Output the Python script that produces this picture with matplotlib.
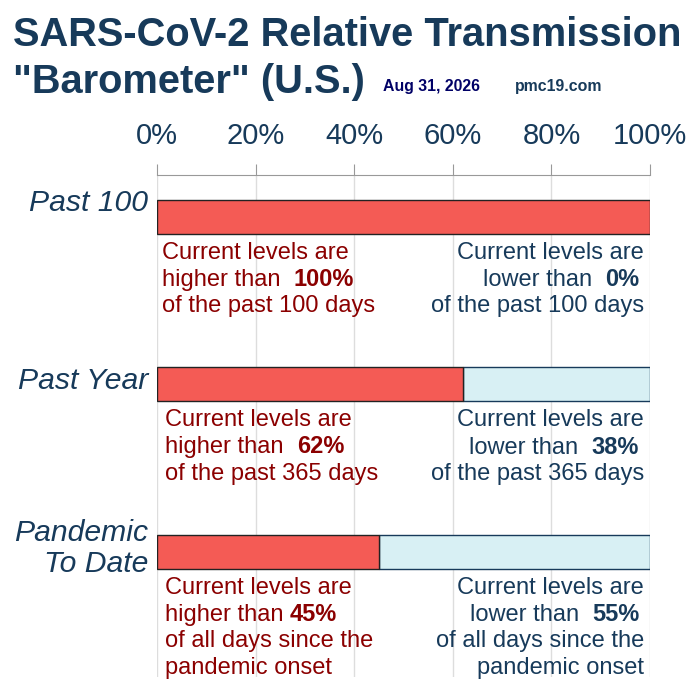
import matplotlib
matplotlib.use("Agg")
import matplotlib.pyplot as plt

plt.rcParams['font.family'] = ['Liberation Sans', 'DejaVu Sans']

# data
periods = ['Past 100', 'Past Year', 'Pandemic\nTo Date']
higher_pct = [100, 62, 45]
lower_pct = [0, 38, 55]
tail_lines = [['of the past 100 days'],
              ['of the past 365 days'],
              ['of all days since the', 'pandemic onset']]
ticks = [0, 20, 40, 60, 80, 100]
tick_labels = ['0%', '20%', '40%', '60%', '80%', '100%']
date_str = 'Aug 31, 2026'
site = 'pmc19.com'

navy = '#173a5a'
dark_red = '#8b0000'
red = '#f45b55'
light_blue = '#d8f0f4'

fig = plt.figure(figsize=(6.97, 6.94), dpi=100)
ax = fig.add_axes([157 / 697, 1 - 677 / 694, 493 / 697, 502 / 694])

y = list(range(len(periods)))
bar_h = 0.203
ax.barh(y, higher_pct, height=bar_h, color=red, edgecolor='#222222', linewidth=1, zorder=3)
ax.barh(y, lower_pct, left=higher_pct, height=bar_h, color=light_blue,
        edgecolor=navy, linewidth=1, zorder=2)

ax.set_xlim(0, 100)
ax.set_ylim(2.746, -0.25)
ax.xaxis.tick_top()
ax.set_xticks(ticks)
ax.set_xticklabels(tick_labels, fontsize=21, color=navy)
ax.tick_params(axis='x', length=8, color='#999999', pad=10)
ax.set_yticks([])
ax.grid(axis='x', color='#dddddd', linewidth=1, zorder=0)
for s in ['left', 'right', 'bottom']:
    ax.spines[s].set_visible(False)
ax.spines['top'].set_color('#999999')

# period labels
label_dy = [-0.085, -0.02, -0.02]
for i, name in enumerate(periods):
    ax.text(-1.8, i + label_dy[i], name, ha='right', va='center', fontsize=21.7,
            style='italic', color=navy, linespacing=1.12, clip_on=False)

# annotations
line_dy = [0.215, 0.374, 0.532, 0.69]
fs = 17
for i in y:
    xl = 1.0 if i == 0 else 1.6
    xr = 98.8
    # left block
    ax.text(xl, i + line_dy[0], 'Current levels are', ha='left', va='center',
            fontsize=fs, color=dark_red)
    t = ax.text(xl, i + line_dy[1], 'higher than ' + (' ' if i < 2 else ''), ha='left',
                va='center', fontsize=fs, color=dark_red)
    ax.annotate(f'{higher_pct[i]}%', xy=(1, 0), xycoords=t, ha='left', va='bottom',
                fontsize=fs, color=dark_red, fontweight='bold')
    for k, ln in enumerate(tail_lines[i]):
        ax.text(xl, i + line_dy[2 + k], ln, ha='left', va='center', fontsize=fs,
                color=dark_red)
    # right block
    ax.text(xr, i + line_dy[0], 'Current levels are', ha='right', va='center',
            fontsize=fs, color=navy)
    b = ax.text(xr - 1.0, i + line_dy[1], f'{lower_pct[i]}%', ha='right', va='center',
                fontsize=fs, color=navy, fontweight='bold')
    ax.annotate('lower than  ', xy=(0, 0), xycoords=b, ha='right', va='bottom',
                fontsize=fs, color=navy)
    for k, ln in enumerate(tail_lines[i]):
        ax.text(xr, i + line_dy[2 + k], ln, ha='right', va='center', fontsize=fs,
                color=navy)

# title
fig.text(13 / 697, 1 - 35 / 694, 'SARS-CoV-2 Relative Transmission', ha='left',
         va='center', fontsize=28.7, fontweight='bold', color=navy)
fig.text(13 / 697, 1 - 82 / 694, '"Barometer" (U.S.)', ha='left', va='center',
         fontsize=28.7, fontweight='bold', color=navy)
fig.text(383 / 697, 1 - 87 / 694, date_str, ha='left', va='center', fontsize=11.4,
         fontweight='bold', color='#000066')
fig.text(515 / 697, 1 - 87 / 694, site, ha='left', va='center', fontsize=11.4,
         fontweight='bold', color=navy)

fig.savefig('out.png', dpi=100)
